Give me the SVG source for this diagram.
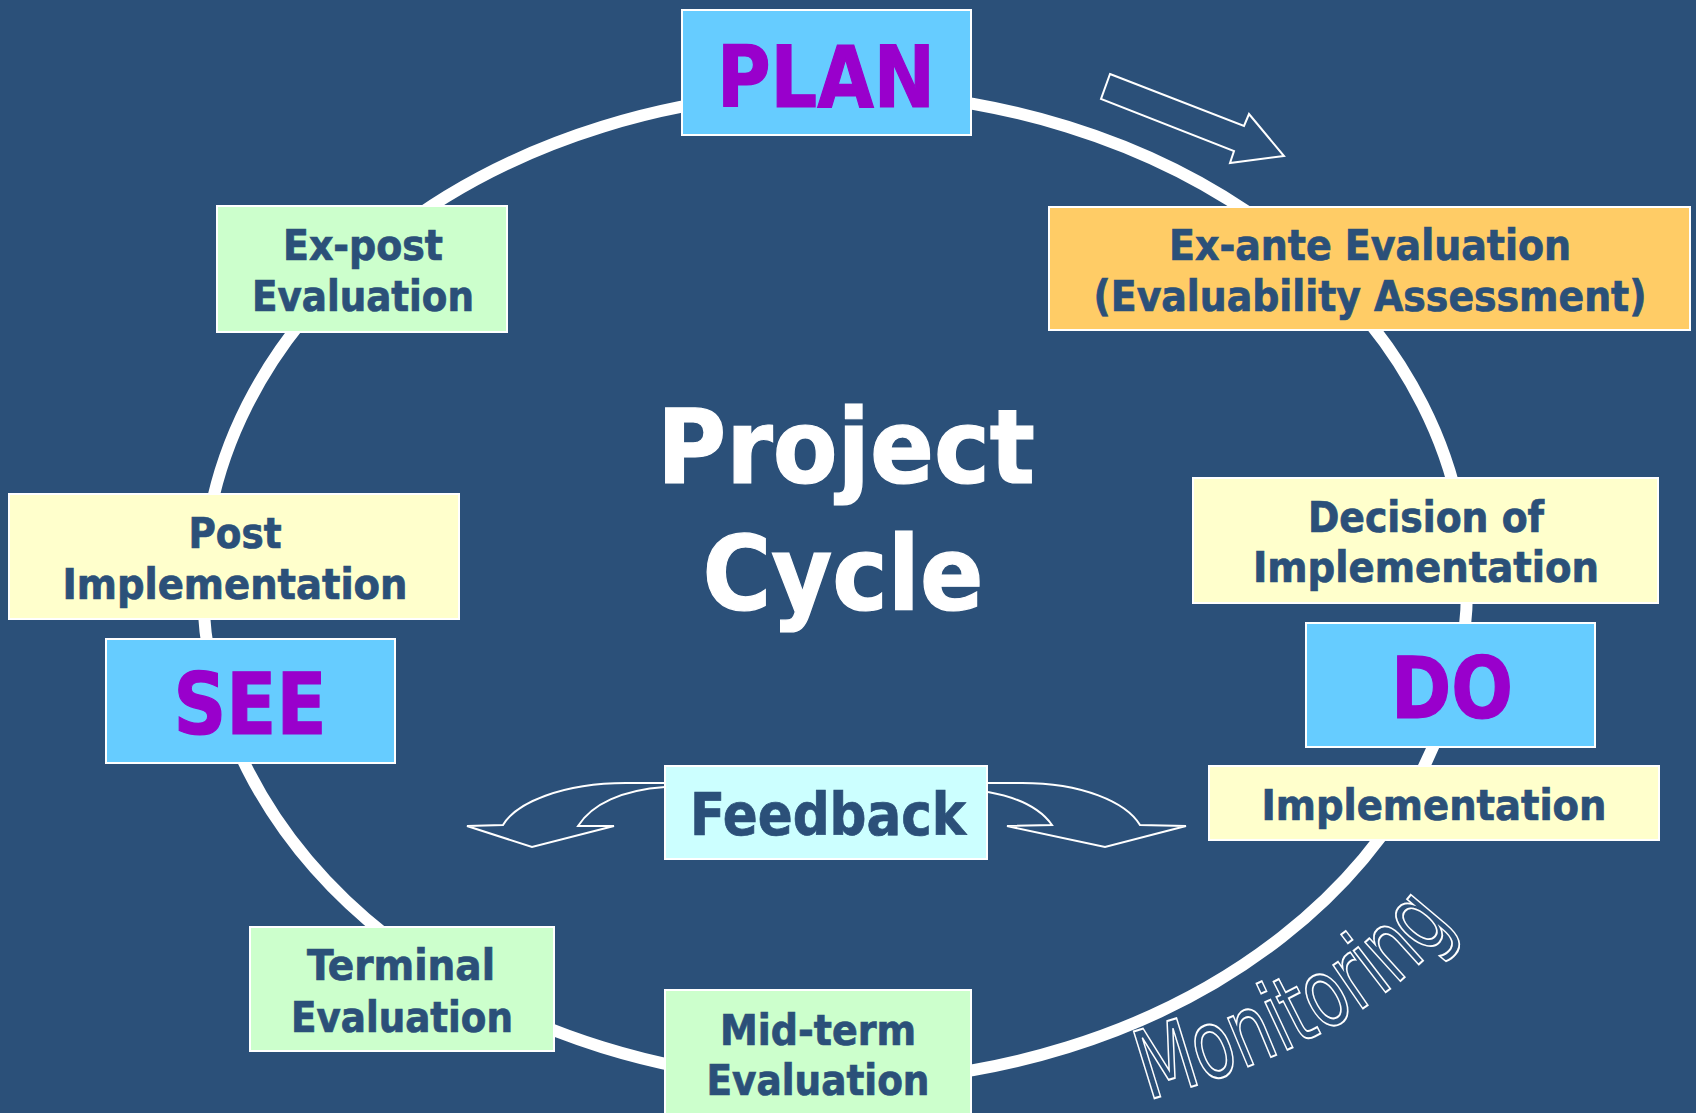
<svg xmlns="http://www.w3.org/2000/svg" width="1696" height="1113" viewBox="0 0 1696 1113">
  <defs>
    <style>
      .bg { fill: #2B5079; }
      .box { stroke: #FFFFFF; stroke-width: 2; }
      .phase { fill: #66CCFF; }
      .yellow { fill: #FFFFCC; }
      .green { fill: #CCFFCC; }
      .orange { fill: #FFCC66; }
      .cyan { fill: #CCFFFF; }
      .lbl, .big, .title { font-family: "DejaVu Sans Condensed", "DejaVu Sans", "Liberation Sans", sans-serif; font-stretch: condensed; font-weight: bold; text-anchor: middle; }
      .lbl { font-size: 42px; fill: #2B5079; stroke: #2B5079; stroke-width: 0.7; }
      .big { font-size: 86px; fill: #9900CC; stroke: #9900CC; stroke-width: 1.2; }
      .title { font-size: 104px; fill: #FFFFFF; stroke: #FFFFFF; stroke-width: 1.2; }
      .ring { fill: none; stroke: #FFFFFF; stroke-width: 12; }
      .outline { fill: none; stroke: #FFFFFF; stroke-width: 2; stroke-linejoin: miter; }
      .wordart { font-family: "DejaVu Sans", "Liberation Sans", sans-serif; font-size: 96px; fill: none; stroke: #FFFFFF; stroke-width: 2; }
    </style>
    <path id="monitorPath" d="M 1148 1100 C 1235 1075 1385 1025 1458 918"/>
  </defs>

  <rect class="bg" x="0" y="0" width="1696" height="1113"/>

  <!-- cycle ring and arrows -->
  <g id="connectors">
    <ellipse class="ring" cx="835" cy="587" rx="632" ry="495"/>
    <polygon class="outline" points="1110,74 1244,126 1249,114 1284,156 1230,163 1234,151 1101,99"/>
    <path class="outline" d="M 665 783 L 626 783 C 562 783 516 803 503 825 L 467 826 L 532 847 L 614 826 L 578 826 C 592 804 622 790 665 787"/>
    <path class="outline" d="M 988 783 L 1022 783 C 1082 783 1126 802 1140 825 L 1186 826 L 1105 847 L 1007 826 L 1052 825 C 1040 808 1016 797 988 792"/>
  </g>

  <!-- centre title -->
  <g id="title">
    <text class="title" x="846" y="483" textLength="378" lengthAdjust="spacingAndGlyphs">Project</text>
    <text class="title" x="843" y="610" textLength="281" lengthAdjust="spacingAndGlyphs">Cycle</text>
  </g>

  <g id="plan">
    <rect class="box phase" x="682" y="10" width="289" height="125"/>
    <text class="big" x="826" y="107" textLength="218" lengthAdjust="spacingAndGlyphs">PLAN</text>
  </g>

  <g id="ex-ante">
    <rect class="box orange" x="1049" y="207" width="641" height="123"/>
    <text class="lbl" x="1370" y="260" textLength="402" lengthAdjust="spacingAndGlyphs">Ex-ante Evaluation</text>
    <text class="lbl" x="1370" y="311" textLength="553" lengthAdjust="spacingAndGlyphs">(Evaluability Assessment)</text>
  </g>

  <g id="decision">
    <rect class="box yellow" x="1193" y="478" width="465" height="125"/>
    <text class="lbl" x="1426" y="532" textLength="236" lengthAdjust="spacingAndGlyphs">Decision of</text>
    <text class="lbl" x="1426" y="582" textLength="346" lengthAdjust="spacingAndGlyphs">Implementation</text>
  </g>

  <g id="do">
    <rect class="box phase" x="1306" y="623" width="289" height="124"/>
    <text class="big" x="1452" y="718" textLength="122" lengthAdjust="spacingAndGlyphs">DO</text>
  </g>

  <g id="implementation">
    <rect class="box yellow" x="1209" y="766" width="450" height="74"/>
    <text class="lbl" x="1434" y="820" textLength="345" lengthAdjust="spacingAndGlyphs">Implementation</text>
  </g>

  <g id="mid-term">
    <rect class="box green" x="665" y="990" width="306" height="126"/>
    <text class="lbl" x="818" y="1045" textLength="196" lengthAdjust="spacingAndGlyphs">Mid-term</text>
    <text class="lbl" x="818" y="1095" textLength="223" lengthAdjust="spacingAndGlyphs">Evaluation</text>
  </g>

  <g id="terminal">
    <rect class="box green" x="250" y="927" width="304" height="124"/>
    <text class="lbl" x="401" y="980" textLength="188" lengthAdjust="spacingAndGlyphs">Terminal</text>
    <text class="lbl" x="402" y="1032" textLength="222" lengthAdjust="spacingAndGlyphs">Evaluation</text>
  </g>

  <g id="see">
    <rect class="box phase" x="106" y="639" width="289" height="124"/>
    <text class="big" x="250" y="734" textLength="153" lengthAdjust="spacingAndGlyphs">SEE</text>
  </g>

  <g id="post-implementation">
    <rect class="box yellow" x="9" y="494" width="450" height="125"/>
    <text class="lbl" x="235" y="548" textLength="93" lengthAdjust="spacingAndGlyphs">Post</text>
    <text class="lbl" x="235" y="599" textLength="345" lengthAdjust="spacingAndGlyphs">Implementation</text>
  </g>

  <g id="ex-post">
    <rect class="box green" x="217" y="206" width="290" height="126"/>
    <text class="lbl" x="363" y="260" textLength="160" lengthAdjust="spacingAndGlyphs">Ex-post</text>
    <text class="lbl" x="363" y="311" textLength="222" lengthAdjust="spacingAndGlyphs">Evaluation</text>
  </g>

  <g id="feedback">
    <rect class="box cyan" x="665" y="766" width="322" height="93"/>
    <text class="lbl" x="828" y="835" style="font-size:58px" textLength="276" lengthAdjust="spacingAndGlyphs">Feedback</text>
  </g>

  <g id="monitoring">
    <text class="wordart"><textPath href="#monitorPath" textLength="360" lengthAdjust="spacingAndGlyphs">Monitoring</textPath></text>
  </g>
</svg>
